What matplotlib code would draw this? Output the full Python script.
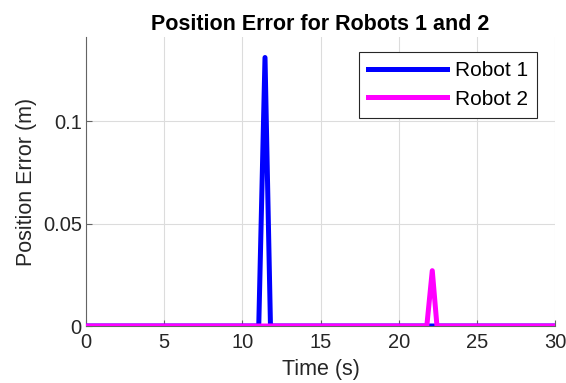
import numpy as np
import matplotlib.pyplot as plt

### Data
t1 = [0, 11.05, 11.45, 11.8, 30]
err1 = [0, 0, 0.131, 0, 0]
t2 = [0, 21.8, 22.15, 22.45, 30]
err2 = [0, 0, 0.027, 0, 0]
xticks = [0, 5, 10, 15, 20, 25, 30]
yticks = [0, 0.05, 0.1]
yticklabels = ['0', '0.05', '0.1']

plt.rcParams['font.family'] = ['Liberation Sans', 'DejaVu Sans']

fig = plt.figure(figsize=(5.66, 3.83), dpi=100)
ax = fig.add_axes([86/566, 1-326/383, (555-86)/566, (326-37)/383])

ax.plot(t1, err1, color='#0000ff', linewidth=3.6, label='Robot 1', zorder=3)
ax.plot(t2, err2, color='#ff00ff', linewidth=3.6, label='Robot 2', zorder=4)

ax.set_xlim(0, 30)
ax.set_ylim(0, 0.141)
ax.set_xticks(xticks)
ax.set_xticklabels([str(x) for x in xticks])
ax.set_yticks(yticks)
ax.set_yticklabels(yticklabels)

ax.grid(True, color='#dcdcdc', linewidth=0.8)
ax.set_axisbelow(True)
for s in ['top', 'right']:
    ax.spines[s].set_visible(False)
ax.spines['left'].set_color('#646464')
ax.spines['bottom'].set_color('#646464')
ax.tick_params(direction='in', length=4, colors='#646464', labelsize=14.5,
               labelcolor='#262626')
ax.tick_params(axis='x', pad=5)
ax.tick_params(axis='y', pad=3)

ax.set_xlabel('Time (s)', fontsize=15.5, color='#262626', labelpad=5)
ax.set_ylabel('Position Error (m)', fontsize=15.5, color='#262626', labelpad=4)
ax.set_title('Position Error for Robots 1 and 2', fontsize=15.5, fontweight='bold', pad=5)

leg = ax.legend(loc='upper right', bbox_to_anchor=(0.962, 0.948), borderaxespad=0,
                fontsize=15, frameon=True, fancybox=False, framealpha=1,
                handlelength=3.8, borderpad=0.45, labelspacing=0.45,
                handletextpad=0.35)
leg.get_frame().set_edgecolor('#262626')
leg.get_frame().set_linewidth(0.8)

fig.savefig('out.png', dpi=100)
